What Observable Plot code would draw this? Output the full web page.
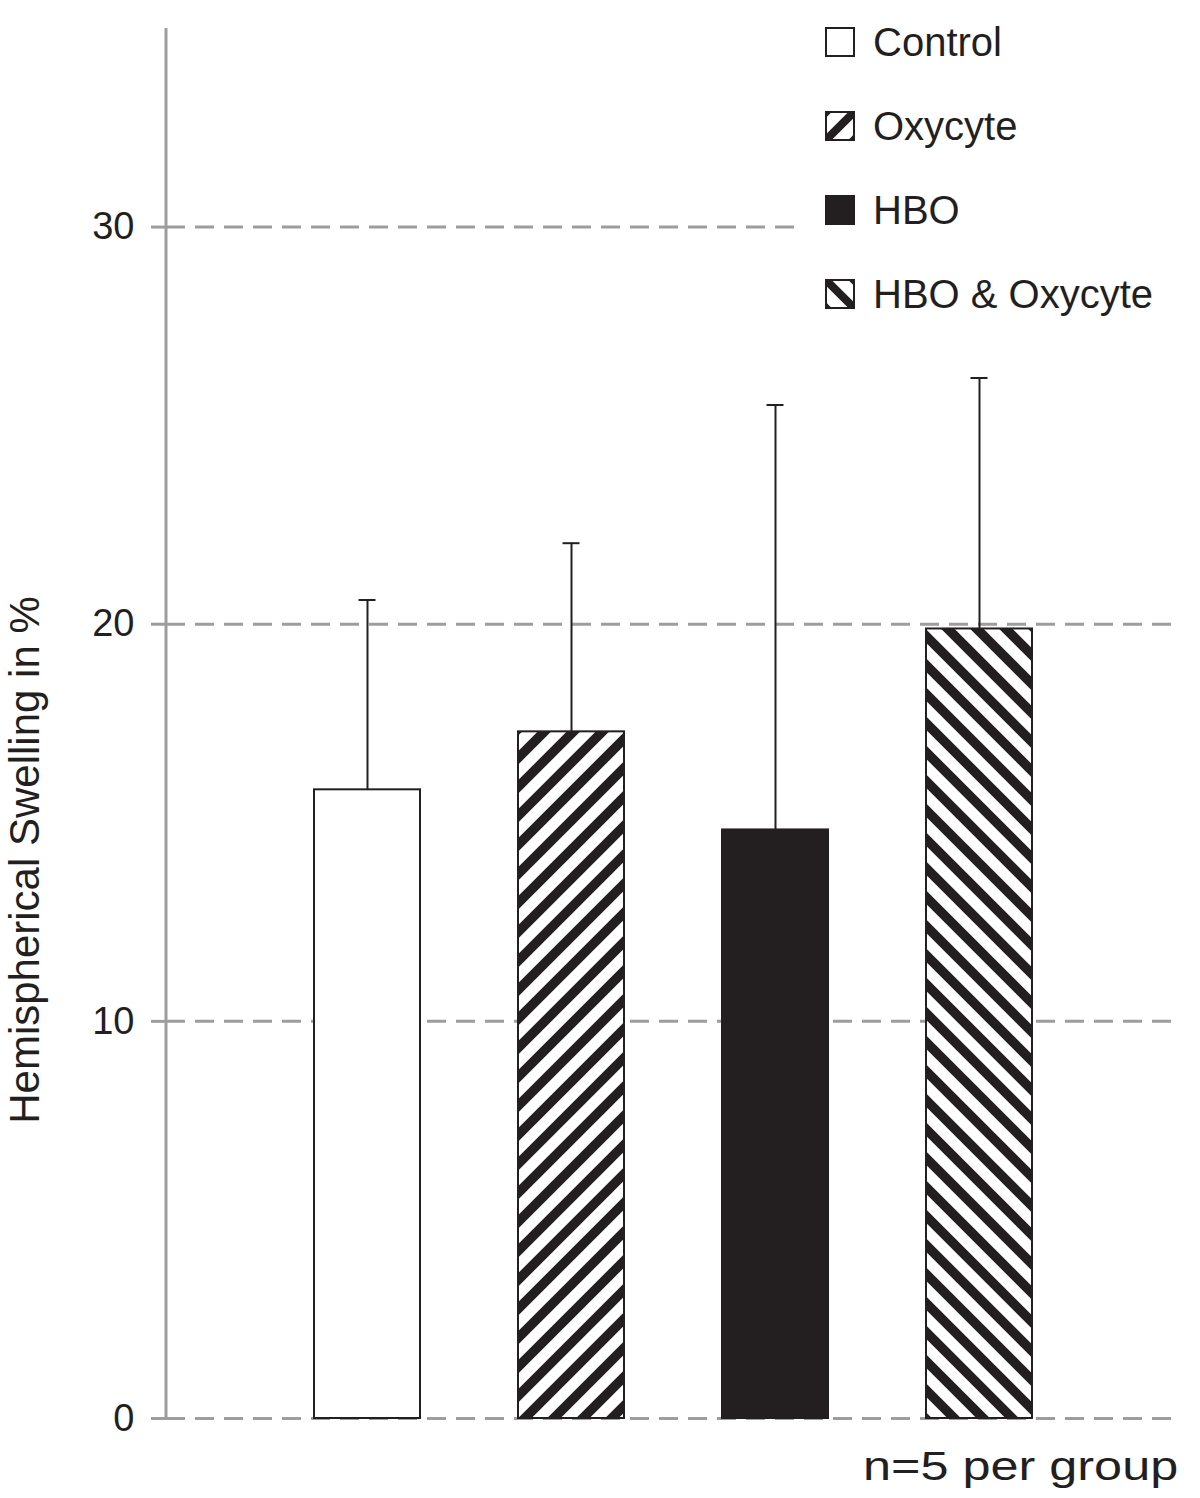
<!DOCTYPE html>
<html>
<head>
<meta charset="utf-8">
<script src="https://cdn.jsdelivr.net/npm/d3@7"></script>
<script src="https://cdn.jsdelivr.net/npm/@observablehq/plot@0.6"></script>
<style>
  body { margin: 0; background: #fff; font-family: "Liberation Sans", Arial, Helvetica, sans-serif; color: #231f20; }
  #wrap { position: relative; width: 1200px; height: 1498px; overflow: hidden; background: #fff; }
  #ylabel { position: absolute; left: -275px; top: 835px; width: 600px; height: 50px; line-height: 50px;
            font-size: 42px; text-align: center; transform: rotate(-90deg); transform-origin: 50% 50%; white-space: nowrap; }
  #legend { position: absolute; left: 797px; top: 0; }
  #note { position: absolute; right: 22px; top: 1446px; font-size: 40px; line-height: 40px; white-space: nowrap;
          transform: scaleX(1.26); transform-origin: 100% 50%; }
</style>
</head>
<body>
<div id="wrap"></div>
<script>
// ---- data ----
const groups = ["Control", "Oxycyte", "HBO", "HBO & Oxycyte"];
const means = [15.83, 17.29, 14.82, 19.88];
const sds = [4.78, 4.75, 10.70, 6.32];
const yTicks = [0, 10, 20, 30];
const yLabel = "Hemispherical Swelling in %";
const note = "n=5 per group";

const rows = groups.map((g, i) => ({ group: g, mean: means[i], upper: means[i] + sds[i] }));

const ink = "#231f20";
const grid = "#9d9d9d";
const fills = ["#ffffff", "url(#stripe-up)", ink, "url(#stripe-down)"];
const legendFills = ["#ffffff", "url(#lg-up)", ink, "url(#lg-down)"];

const plot = Plot.plot({
  width: 1200,
  height: 1440,
  marginLeft: 166,
  marginRight: 20,
  marginTop: 28,
  marginBottom: 22,
  style: { fontFamily: '"Liberation Sans", Arial, Helvetica, sans-serif', background: "white", color: ink },
  x: { domain: groups, paddingInner: 0.482, paddingOuter: 0.72, axis: null },
  y: { domain: [0, 35], axis: null },
  color: { domain: groups, range: fills },
  marks: [
    Plot.ruleY(yTicks, { stroke: grid, strokeWidth: 3, strokeDasharray: "19,10" }),
    Plot.axisY({ ticks: yTicks, tickFormat: d => String(d), tickSize: 15, tickPadding: 17,
                 stroke: grid, strokeWidth: 3, fill: ink, fontSize: 38, label: null }),
    Plot.barY(rows, { x: "group", y: "mean", fill: "group", stroke: ink, strokeWidth: 2 }),
    Plot.ruleX(rows, { x: "group", y1: "mean", y2: "upper", stroke: ink, strokeWidth: 2 }),
    Plot.tickY(rows, { x: "group", y: "upper", stroke: ink, strokeWidth: 2, insetLeft: 44.5, insetRight: 44.5 })
  ]
});

// stripe patterns
const svg = d3.select(plot);
const defs = svg.insert("defs", ":first-child");
function addPattern(id, size, sw, up) {
  const p = defs.append("pattern").attr("id", id).attr("patternUnits", "userSpaceOnUse")
    .attr("width", size).attr("height", size);
  p.append("rect").attr("width", size).attr("height", size).attr("fill", "#fff");
  const h = size / 2;
  const d = up
    ? `M${-h},${h} L${h},${-h} M0,${size} L${size},0 M${h},${size + h} L${size + h},${h}`
    : `M${-h},${h} L${h},${size + h} M0,0 L${size},${size} M${h},${-h} L${size + h},${h}`;
  p.append("path").attr("d", d).attr("stroke", ink).attr("stroke-width", sw).attr("fill", "none");
}
addPattern("stripe-up", 29, 9.5, true);
addPattern("stripe-down", 29, 9.5, false);

// y axis line through the library's scales
const xs = plot.scale("x"), ys = plot.scale("y");
svg.append("line")
  .attr("x1", xs.range[0]).attr("x2", xs.range[0])
  .attr("y1", ys.apply(ys.domain[0])).attr("y2", ys.apply(ys.domain[1]))
  .attr("stroke", grid).attr("stroke-width", 3);

const wrap = document.getElementById("wrap");
wrap.appendChild(plot);

// y label
const yl = document.createElement("div");
yl.id = "ylabel";
yl.textContent = yLabel;
wrap.appendChild(yl);

// legend
const leg = d3.select(wrap).append("svg").attr("id", "legend").attr("width", 403).attr("height", 330);
leg.append("rect").attr("width", 403).attr("height", 330).attr("fill", "#fff");
const ldefs = leg.append("defs");
function addLegPattern(id, up) {
  const s = 28;
  const p = ldefs.append("pattern").attr("id", id).attr("patternUnits", "userSpaceOnUse")
    .attr("width", s).attr("height", s);
  p.append("rect").attr("width", s).attr("height", s).attr("fill", "#fff");
  const d = up
    ? `M-6,6 L6,-6 M0,${s} L${s},0 M${s - 6},${s + 6} L${s + 6},${s - 6}`
    : `M-6,${s - 6} L6,${s + 6} M0,0 L${s},${s} M${s - 6},-6 L${s + 6},6`;
  p.append("path").attr("d", d).attr("stroke", ink).attr("stroke-width", 8).attr("fill", "none");
}
addLegPattern("lg-up", true);
addLegPattern("lg-down", false);
const item = leg.selectAll("g.item").data(groups).join("g").attr("class", "item")
  .attr("transform", (d, i) => `translate(0,${i * 84})`);
item.append("g").attr("transform", "translate(29,28)")
  .append("rect").attr("width", 28).attr("height", 28)
  .attr("fill", (d, i) => legendFills[i]).attr("stroke", ink).attr("stroke-width", 2);
item.append("text").attr("x", 76).attr("y", 56).attr("font-size", 40)
  .attr("font-family", '"Liberation Sans", Arial, Helvetica, sans-serif').attr("fill", ink).text(d => d);

// note
const nt = document.createElement("div");
nt.id = "note";
nt.textContent = note;
wrap.appendChild(nt);
</script>
</body>
</html>
